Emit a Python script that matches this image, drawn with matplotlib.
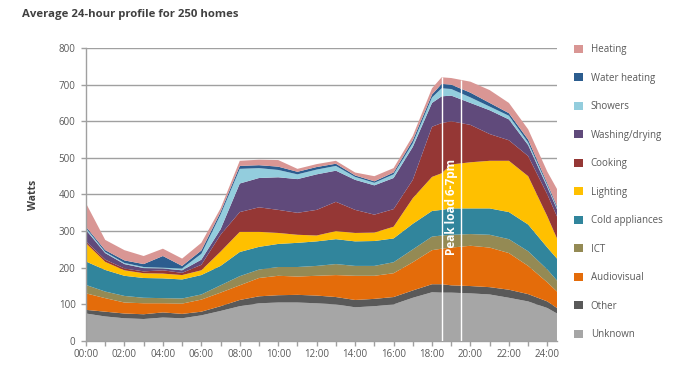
import numpy as np
import matplotlib
matplotlib.use("Agg")
import matplotlib.pyplot as plt
from matplotlib.patches import Patch

plt.rcParams['font.family'] = ['Open Sans', 'DejaVu Sans']

# time of day in hours (x positions of the samples)
hours = [0, 1, 2, 3, 4, 5, 6, 7, 8, 9, 10, 11, 12, 13, 14, 15, 16, 17, 18,
         18.5, 19, 20, 21, 22, 23, 24, 24.5]

# average watts per end use, bottom of the stack first
unknown = [75, 67, 62, 60, 64, 62, 70, 82, 95, 103, 105, 105, 103, 100, 92, 95, 100,
           118, 133, 132, 132, 130, 127, 118, 108, 90, 75]
other = [10, 13, 13, 13, 14, 12, 10, 13, 17, 19, 20, 21, 21, 20, 20, 20, 20,
         20, 22, 23, 20, 20, 20, 22, 20, 18, 15]
audiovisual = [45, 37, 30, 30, 25, 28, 33, 37, 40, 50, 53, 50, 54, 60, 66, 63, 65,
               77, 93, 97, 103, 110, 108, 100, 77, 52, 45]
ict = [23, 18, 18, 15, 14, 14, 14, 20, 25, 23, 24, 26, 27, 30, 27, 27, 30,
       35, 37, 36, 35, 32, 35, 38, 40, 35, 30]
cold = [64, 59, 55, 54, 54, 52, 53, 53, 66, 62, 63, 66, 67, 68, 67, 68, 65,
        70, 70, 70, 72, 70, 72, 74, 73, 60, 60]
lighting = [50, 22, 15, 13, 13, 12, 13, 39, 55, 41, 30, 22, 16, 22, 23, 23, 32,
            70, 93, 100, 120, 126, 130, 140, 132, 85, 55]
cooking = [5, 6, 5, 5, 9, 6, 15, 46, 54, 67, 63, 60, 70, 80, 63, 49, 48,
           50, 137, 137, 118, 102, 73, 56, 55, 60, 60]
washing = [31, 18, 12, 9, 5, 7, 14, 15, 78, 80, 89, 92, 97, 85, 82, 80, 85,
           90, 65, 73, 70, 60, 65, 57, 30, 20, 20]
showers = [5, 3, 3, 3, 2, 5, 16, 40, 40, 27, 20, 13, 13, 13, 8, 7, 10,
           10, 15, 22, 18, 15, 10, 10, 7, 5, 3]
water_heating = [4, 5, 7, 8, 32, 7, 9, 7, 8, 8, 9, 7, 7, 6, 4, 4, 5,
                 8, 8, 12, 12, 13, 10, 7, 8, 5, 5]
heating = [64, 28, 28, 22, 20, 20, 21, 10, 14, 15, 18, 8, 8, 8, 8, 14, 12,
           12, 17, 18, 18, 30, 35, 28, 28, 32, 47]

labels = ['Unknown', 'Other', 'Audiovisual', 'ICT', 'Cold appliances', 'Lighting',
          'Cooking', 'Washing/drying', 'Showers', 'Water heating', 'Heating']
colors = ['#a6a6a6', '#595959', '#e46c0a', '#948a54', '#31859c', '#ffc000',
          '#953735', '#604a7b', '#93cddd', '#2c5d8f', '#d99694']

peak_window = [18.5, 19.5]
tick_hours = list(range(0, 25, 2))
tick_labels = ['%02d:00' % h for h in tick_hours]

fig = plt.figure(figsize=(6.83, 3.75), dpi=100)
ax = fig.add_axes([0.1259, 0.0907, 0.6896, 0.7813])

series = [unknown, other, audiovisual, ict, cold, lighting, cooking,
          washing, showers, water_heating, heating]
ax.stackplot(hours, *series, colors=colors, linewidth=0, zorder=2)

# peak window markers, drawn only over the filled area
total = np.sum(series, axis=0)
for x in peak_window:
    ax.vlines(x, 0, np.interp(x, hours, total), color='white', lw=1.0, zorder=3)
ax.text(np.mean(peak_window), 365, 'Peak load 6-7pm', rotation=90, color='white',
        fontsize=8.5, fontweight='bold', ha='center', va='center', zorder=4)

ax.set_xlim(0, 24.5)
ax.set_ylim(0, 800)
ax.set_yticks(range(0, 801, 100))
ax.set_xticks(tick_hours)
ax.set_xticklabels(tick_labels)
ax.set_xticks(range(0, 25), minor=True)
ax.yaxis.grid(True, color='#a0a0a0', lw=1.0, zorder=0)
ax.set_axisbelow(True)

for s in ('top', 'right'):
    ax.spines[s].set_visible(False)
for s in ('left', 'bottom'):
    ax.spines[s].set_color('#a0a0a0')
    ax.spines[s].set_linewidth(1.0)
ax.tick_params(axis='both', which='both', colors='#a0a0a0', length=3.5, width=1,
               labelcolor='#595959', labelsize=7)
ax.tick_params(axis='y', pad=4)
ax.tick_params(axis='x', pad=2)

ax.set_ylabel('Watts', fontsize=7.5, fontweight='bold', color='#404040', labelpad=14)

fig.text(0.032, 0.962, 'Average 24-hour profile for 250 homes', fontsize=8.2,
         fontweight='bold', color='#404040', ha='left', va='center')

handles = [Patch(facecolor=c, edgecolor='none') for c in colors][::-1]
fig.legend(handles, labels[::-1], loc='upper left', bbox_to_anchor=(0.835, 0.893),
           frameon=False, fontsize=7, labelcolor='#595959', handlelength=0.9,
           handleheight=0.9, handletextpad=0.8, labelspacing=1.8, borderaxespad=0)

fig.savefig('out.png', dpi=100)
